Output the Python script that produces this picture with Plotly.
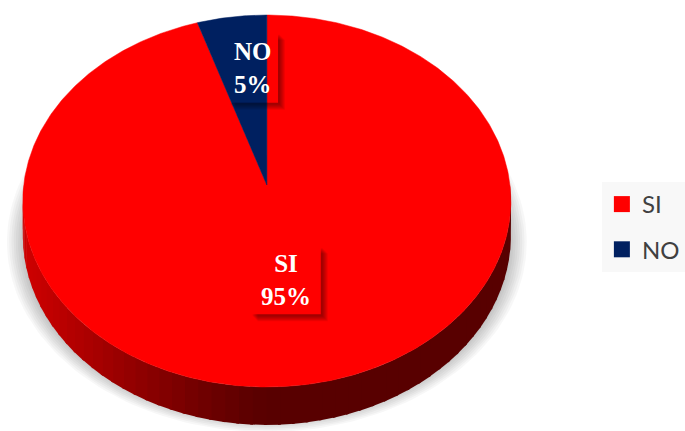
import numpy as np
import plotly.graph_objects as go

# ---- data ----
LABELS = ["SI", "NO"]
VALUES = [95, 5]
COLORS = ["#FF0000", "#002060"]

# ---- canvas / pie geometry (pixel space) ----
W, H = 685, 431
CX, CY = 270, 185          # pie centre on screen
RX, RY = 246, 184.6        # radii of the top face
K = 0.086                  # perspective strength (front closer than back)
DEPTH = 34.7               # thickness of the pie disc

# label placement: fraction of radius along the slice mid-angle, extra x nudge, box size
LABEL_RADIUS = [0.5, 0.68]
LABEL_NUDGE_X = [-1, 11]
LABEL_BOX = [(71, 68), (50, 70)]


def project(phi_deg, r=1.0, drop=0.0):
    """Pie angle (clockwise from 12 o'clock) -> screen x, y with a simple perspective."""
    phi = np.radians(phi_deg)
    u = r * np.sin(phi)
    v = -r * np.cos(phi)
    s = 1.0 / (1.0 - K * v)
    return CX + RX * u * s, CY + RY * v * s + drop * s


fig = go.Figure()

# soft drop shadow under the disc
for i, sc in enumerate(np.linspace(1.0, 0.94, 8)):
    t = np.linspace(0, 2 * np.pi, 200)
    fig.add_trace(go.Scatter(
        x=270 + 263 * sc * np.cos(t), y=242 + 190 * sc * np.sin(t),
        fill="toself", mode="lines", line=dict(width=0),
        fillcolor="rgba(0,0,0,0.03)", hoverinfo="skip", showlegend=False))

# angular extents of the slices
total = float(sum(VALUES))
starts, ends = [], []
acc = 0.0
for v in VALUES:
    starts.append(acc / total * 360)
    acc += v
    ends.append(acc / total * 360)

# visible side wall (front half of the disc), shaded from left to right
step = 3.0
for a in np.arange(90, 270, step):
    seg = np.linspace(a, min(a + step + 0.6, 270), 6)
    xt, yt = project(seg)
    xb, yb = project(seg[::-1], drop=DEPTH)
    xm = float(np.mean(xt))
    tt = np.clip((CX - xm) / RX, 0, 1) ** 1.2
    r = int(88 + (208 - 88) * tt)
    # which slice owns this part of the wall
    owner = 0
    for j in range(len(VALUES)):
        if starts[j] <= a + step / 2 < ends[j]:
            owner = j
    col = f"rgb({r},0,0)" if owner == 0 else "rgb(0,20,60)"
    fig.add_trace(go.Scatter(
        x=np.concatenate([xt, xb]), y=np.concatenate([yt, yb]),
        fill="toself", mode="lines", line=dict(width=0),
        fillcolor=col, hoverinfo="skip", showlegend=False))

# top faces of the slices
for lab, s0, s1, col in zip(LABELS, starts, ends, COLORS):
    phis = np.linspace(s0, s1, max(int((s1 - s0) * 2), 8))
    xr, yr = project(phis)
    fig.add_trace(go.Scatter(
        x=np.concatenate([[CX], xr, [CX]]), y=np.concatenate([[CY], yr, [CY]]),
        fill="toself", mode="lines", line=dict(width=0.5, color=col),
        fillcolor=col, hoverinfo="skip", showlegend=False, name=lab))

# legend entries
for lab, col in zip(LABELS, COLORS):
    fig.add_trace(go.Scatter(
        x=[None], y=[None], mode="markers", name=lab, legendgroup=lab,
        marker=dict(symbol="square", size=16, color=col)))

# data labels with a box shadow
shapes, annotations = [], []
for i, (lab, val) in enumerate(zip(LABELS, VALUES)):
    mid = (starts[i] + ends[i]) / 2
    lx, ly = project(mid, r=LABEL_RADIUS[i])
    lx += LABEL_NUDGE_X[i]
    bw, bh = LABEL_BOX[i]
    x0, x1 = lx - bw / 2, lx + bw / 2
    y0, y1 = ly - bh / 2, ly + bh / 2
    for d in [2, 3, 4, 5, 6, 7]:
        path = (f"M{x1},{y0 + d} L{x1 + d},{y0 + d} L{x1 + d},{y1 + d} "
                f"L{x0 + d},{y1 + d} L{x0 + d},{y1} L{x1},{y1} Z")
        shapes.append(dict(type="path", path=path, xref="x", yref="y",
                           fillcolor="rgba(0,0,0,0.07)", line=dict(width=0),
                           layer="above"))
    pct = round(val / total * 100)
    annotations.append(dict(
        x=lx, y=ly, xref="x", yref="y", showarrow=False,
        text=f"<b>{lab}</b><br><b>{pct}%</b>",
        font=dict(family="Liberation Serif", size=25, color="white"),
        xanchor="center", yanchor="middle"))

fig.update_layout(
    width=W, height=H,
    margin=dict(l=0, r=0, t=0, b=0, pad=0),
    paper_bgcolor="white", plot_bgcolor="white",
    xaxis=dict(range=[0, W], visible=False, fixedrange=True),
    yaxis=dict(range=[H, 0], visible=False, fixedrange=True),
    shapes=shapes, annotations=annotations,
    showlegend=True,
    legend=dict(
        x=609 / W, y=1 - 182 / H, xanchor="left", yanchor="top",
        bgcolor="#f8f8f8", borderwidth=0,
        font=dict(family="Lato", size=24, color="#404040"),
        traceorder="grouped", tracegroupgap=11, itemwidth=30),
)

fig.write_html("out.html")
